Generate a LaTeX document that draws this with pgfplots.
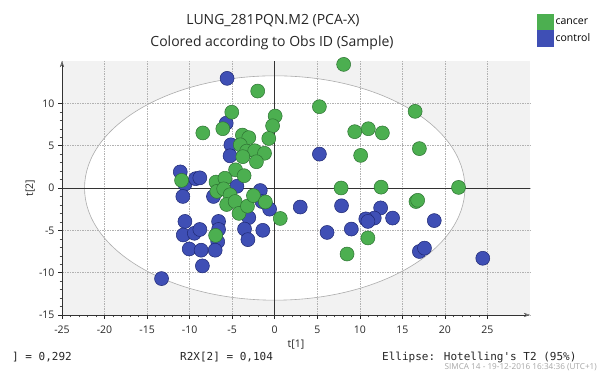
\documentclass[border=0pt]{standalone}
\usepackage{fontspec}
\setmainfont{Open Sans}
\newfontfamily\monofont{DejaVu Sans Mono}
\usepackage{pgfplots}
\pgfplotsset{compat=1.18}
\usetikzlibrary{arrows.meta}
\definecolor{cgreen}{RGB}{76,175,80}
\definecolor{cgreenE}{RGB}{45,115,50}
\definecolor{cblue}{RGB}{63,79,181}
\definecolor{cblueE}{RGB}{30,40,115}
\begin{document}
\begin{tikzpicture}
\begin{axis}[
  set layers,
  at={(62pt,56pt)}, anchor=south west,
  width=468pt, height=254pt, scale only axis,
  xmin=-25, xmax=30, ymin=-15, ymax=15,
  axis lines=left,
  axis line style={black!80, -{Stealth[length=6pt,width=4pt,open]}},
  xtick={-25,-20,...,25}, ytick={-15,-10,...,10},
  minor tick num=4,
  tick align=outside,
  major tick length=4pt, minor tick length=2.5pt,
  tick style={black!85, line width=0.6pt},
  minor tick style={black!70, line width=0.4pt},
  grid=major,
  major grid style={gray!60, dash pattern=on 1.5pt off 1pt, line width=0.5pt},
  /pgf/number format/assume math mode=true,
  tick label style={font=\fontsize{10.5}{12}\selectfont, black!85},
  xticklabel style={yshift=-3pt},
  xlabel={t[1]}, ylabel={t[2]},
  label style={font=\fontsize{10.5}{12}\selectfont, black!85},
  xlabel style={at={(axis description cs:0.5,-0.118)}, anchor=center},
  ylabel style={at={(axis description cs:-0.068,0.5)}, anchor=center},
  clip=false,
  legend style={at={(1.015,1.185)}, anchor=north west, draw=none, fill=none,
    font=\fontsize{10.5}{12}\selectfont, row sep=0pt, inner sep=0pt,
    nodes={inner sep=2pt}},
  legend cell align=left,
]
\begin{pgfonlayer}{axis background}
\fill[gray!10] (rel axis cs:0,0) rectangle (rel axis cs:1,1);
\fill[white] (axis cs:0,0) ellipse [x radius=22.35, y radius=13.25];
\end{pgfonlayer}
\draw[gray!65, line width=0.6pt] (axis cs:0,0) ellipse [x radius=22.35, y radius=13.25];
\draw[black!80, line width=0.6pt] (axis cs:0,-15) -- (axis cs:0,15);
\draw[black!80, line width=0.6pt] (axis cs:-25,0) -- (axis cs:30,0);

\addlegendimage{legend image code/.code={\fill[cgreen] (0pt,-7.8pt) rectangle (16pt,7.8pt);}}
\addlegendentry{cancer}
\addlegendimage{legend image code/.code={\fill[cblue] (0pt,-7.8pt) rectangle (16pt,7.8pt);}}
\addlegendentry{control}

\addplot[only marks, mark=*, mark size=7pt, mark options={fill=cblue, draw=cblueE, line width=0.5pt}, forget plot] coordinates {
(5.25,4.0) (3.0,-2.25) (7.85,-2.1) (12.45,-2.35) (13.85,-3.55) (11.7,-3.55)
(10.7,-3.65) (10.95,-3.95) (6.15,-5.25) (9.0,-4.85) (18.75,-3.85) (17.0,-7.5)
(17.6,-7.1) (24.45,-8.3) (-5.6,12.95) (-5.7,7.65) (-5.15,5.1) (-5.25,3.8)
(-11.1,1.9) (-10.55,0.45) (-9.3,1.1) (-8.8,1.2) (-4.45,0.2) (-1.7,-0.3)
(-1.5,-1.6) (-0.6,-2.5) (-10.8,-1.0) (-7.2,-1.0) (-3.05,-3.5) (-10.55,-3.95)
(-10.75,-5.55) (-9.45,-5.35) (-8.8,-4.9) (-6.6,-3.95) (-6.6,-4.9) (-6.7,-6.35)
(-7.0,-7.35) (-10.05,-7.2) (-8.65,-7.35) (-8.5,-9.2) (-3.55,-4.85) (-3.15,-6.1)
(-1.4,-5.0) (-13.3,-10.7)
};
\addplot[only marks, mark=*, mark size=7pt, mark options={fill=cgreen, draw=cgreenE, line width=0.5pt}, forget plot] coordinates {
(8.1,14.6) (5.25,9.6) (9.4,6.65) (11.0,7.0) (12.65,6.5) (10.1,3.85)
(7.8,0.0) (12.5,0.1) (10.95,-5.9) (8.5,-7.8) (16.5,9.05) (17.0,4.65)
(21.6,0.07) (16.6,-1.6) (16.8,-1.45) (0.65,-3.6) (-2.0,11.45) (-5.05,8.95)
(-6.1,7.0) (-8.45,6.5) (0.05,8.5) (-0.25,7.35) (-0.7,5.85) (-3.8,6.25)
(-3.05,5.95) (-4.05,5.1) (-3.3,4.35) (-2.35,4.4) (-1.2,4.1) (-3.75,3.7)
(-2.15,3.1) (-4.6,2.15) (-3.6,1.45) (-10.95,0.9) (-6.9,0.7) (-5.85,1.15)
(-6.8,-0.4) (-6.0,-0.1) (-5.25,-0.8) (-5.65,-1.95) (-4.65,-1.6) (-4.2,-3.0)
(-3.2,-2.15) (-2.5,-0.9) (-1.1,-1.65) (-6.95,-5.6)
};
\end{axis}
\node[font=\fontsize{14}{16}\selectfont, black!85] at (273pt,350pt) {LUNG\_281PQN.M2 (PCA-X)};
\node[font=\fontsize{14}{16}\selectfont, black!85] at (272pt,328pt) {Colored according to Obs ID (Sample)};
\node[font=\monofont\fontsize{11}{13}\selectfont, anchor=west, inner sep=0pt, black!85] at (12pt,14pt) {] = 0,292};
\node[font=\monofont\fontsize{11}{13}\selectfont, anchor=west, inner sep=0pt, black!85] at (180pt,14pt) {R2X[2] = 0,104};
\node[font=\monofont\fontsize{11}{13}\selectfont, anchor=base west, inner sep=0pt, black!85] at (382pt,10.5pt) {Ellipse: Hotelling's T2 (95\%)};
\node[font=\fontsize{8.2}{9}\selectfont, anchor=base east, inner sep=0pt, gray!70] at (597pt,1.5pt) {SIMCA 14 - 19-12-2016 16:34:36 (UTC+1)};
\pgfresetboundingbox
\path[use as bounding box] (0pt,0pt) rectangle (598pt,371pt);
\end{tikzpicture}
\end{document}
